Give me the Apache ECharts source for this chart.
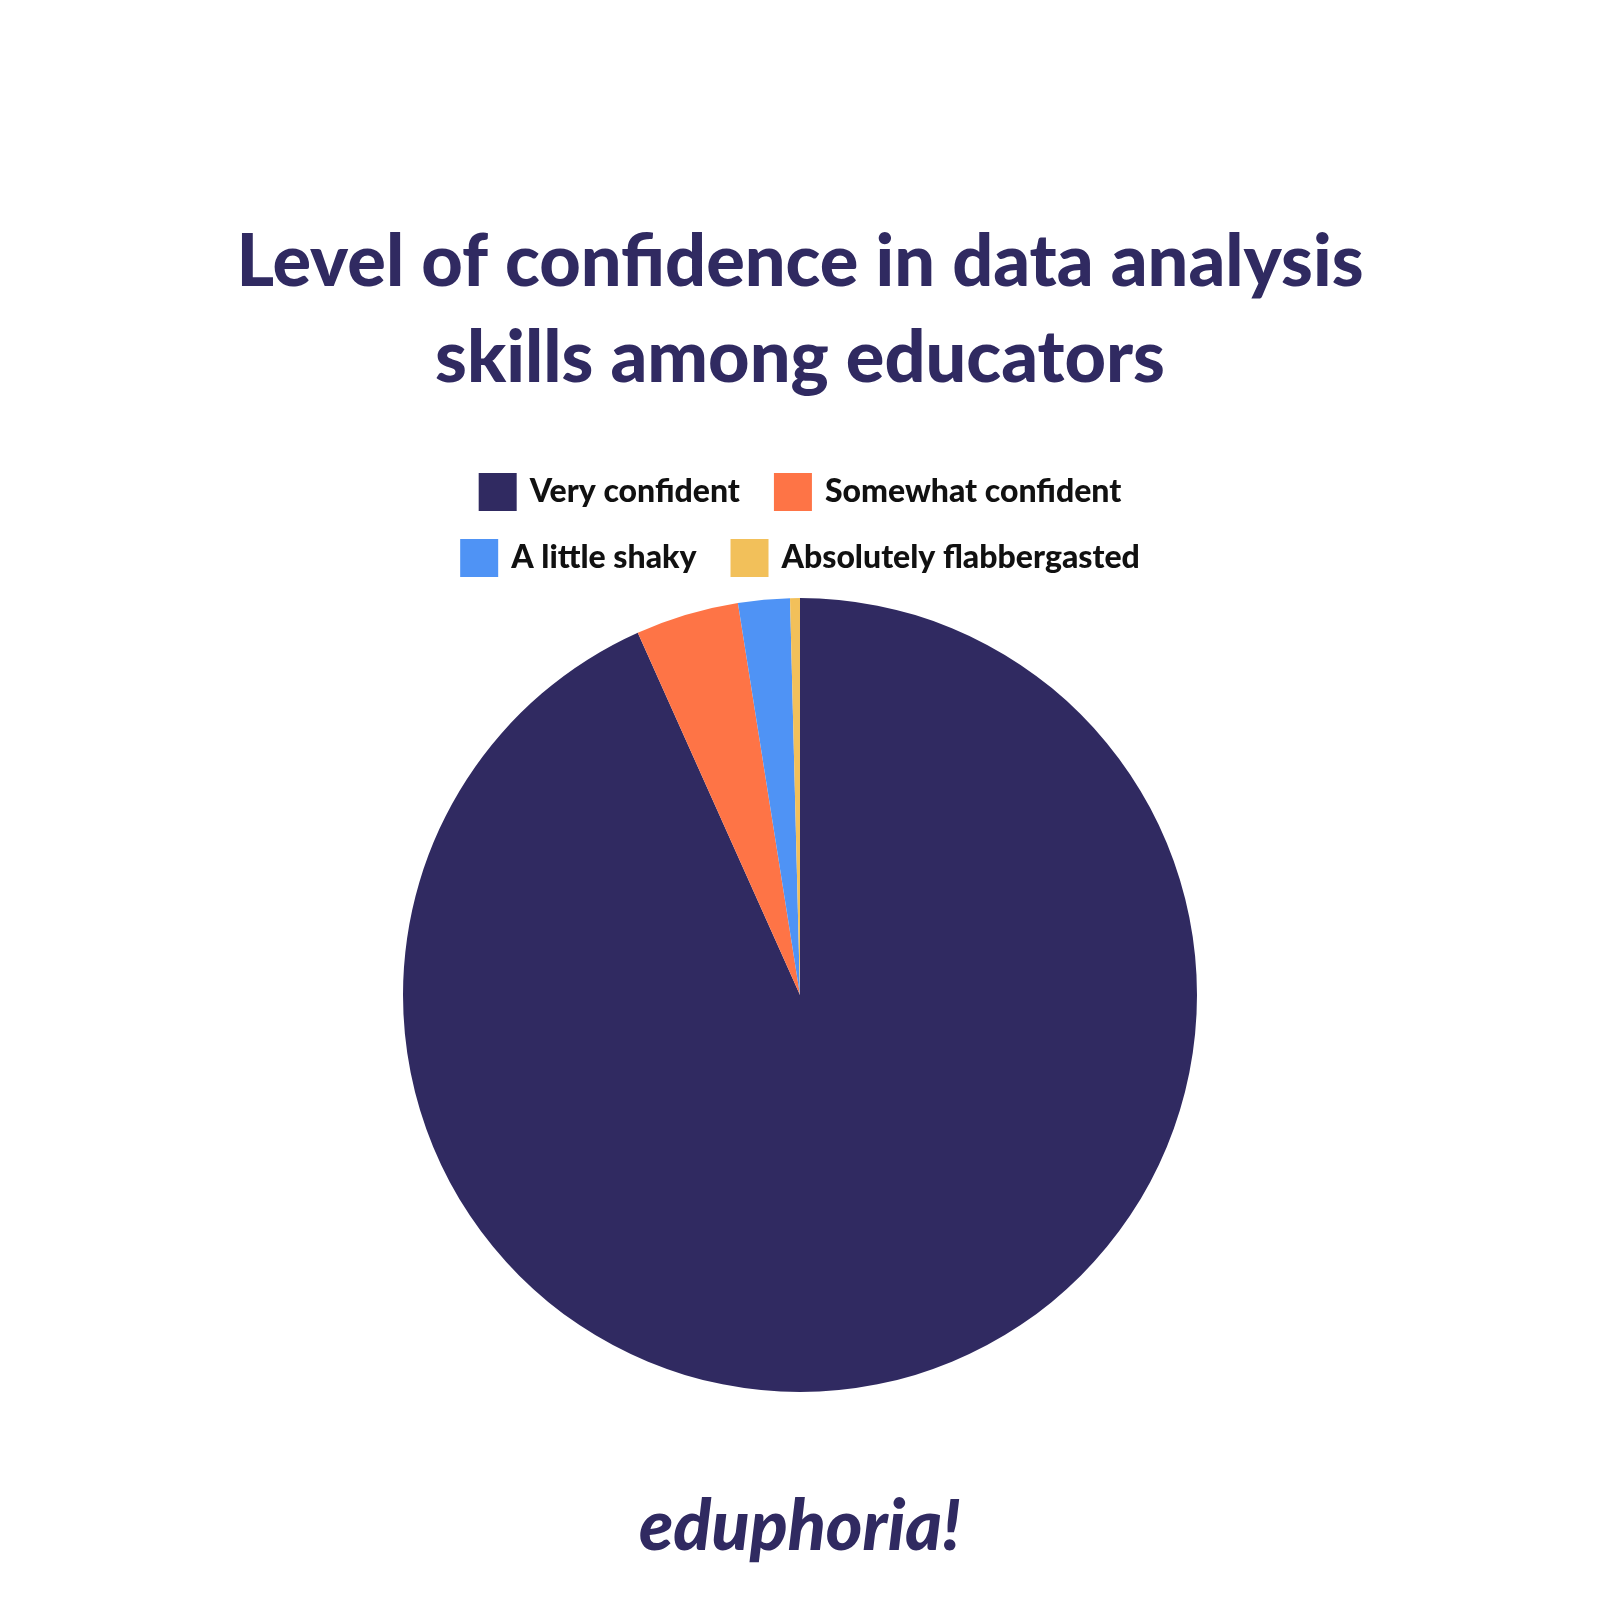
<!DOCTYPE html>
<html><head><meta charset="utf-8">
<script src="https://cdn.jsdelivr.net/npm/echarts@6/dist/echarts.min.js"></script>
<style>html,body{margin:0;padding:0;background:#fff}#c{width:1600px;height:1600px}</style>
</head><body><div id="c"></div>
<script>
const categories = ["Very confident","Somewhat confident","A little shaky","Absolutely flabbergasted"];
const values = [93.3, 4.2, 2.1, 0.4];
const colors = ["#302a61","#fe7446","#4f93f5","#f2c05a"];
const chart = echarts.init(document.getElementById('c'));
const lt = {fontFamily:'Lato',fontWeight:900,fontSize:32,color:'#111',padding:[0,0,0,8]};
chart.setOption({
  backgroundColor:'#fff',
  color: colors,
  title:{text:'Level of confidence in data analysis\nskills among educators',left:'center',top:210,
    textStyle:{fontFamily:'Lato',fontWeight:900,fontSize:72,color:'#302a61',lineHeight:96}},
  legend:[
    {data:categories.slice(0,2),top:468,left:'center',itemWidth:38,itemHeight:38,itemGap:34,icon:'rect',textStyle:lt},
    {data:categories.slice(2),top:534,left:'center',itemWidth:38,itemHeight:38,itemGap:34,icon:'rect',textStyle:lt}
  ],
  graphic:[{type:'text',left:'center',top:1492,style:{text:'eduphoria!',fontFamily:'Lato',fontStyle:'italic',fontWeight:900,fontSize:70,fill:'#302a61'}}],
  series:[{type:'pie',center:[800,995],radius:397,startAngle:90,clockwise:true,label:{show:false},labelLine:{show:false},
    silent:true,itemStyle:{borderWidth:0},
    data:categories.map((n,i)=>({name:n,value:values[i]}))}]
});
</script></body></html>
